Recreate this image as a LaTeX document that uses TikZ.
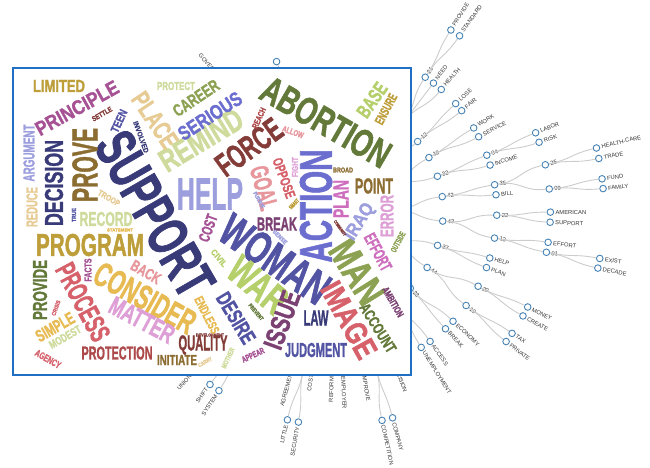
\documentclass[tikz,border=0pt]{standalone}
\usepackage{fontspec}
\usepackage{graphicx}
\usetikzlibrary{calc}
\newfontfamily\treefont{Liberation Sans}
\newfontfamily\cloudfont{Liberation Sans}[FakeBold=1.6]
\definecolor{boxblue}{RGB}{31,111,197}
\definecolor{steel}{RGB}{70,130,180}
\definecolor{linkgray}{RGB}{204,204,204}
\definecolor{labelgray}{RGB}{51,51,51}
\definecolor{cNavy}{HTML}{393B79}
\definecolor{cSlate}{HTML}{5254A3}
\definecolor{cIris}{HTML}{6B6ECF}
\definecolor{cLav}{HTML}{9C9EDE}
\definecolor{cMoss}{HTML}{637939}
\definecolor{cFern}{HTML}{8CA252}
\definecolor{cLime}{HTML}{B5CF6B}
\definecolor{cSage}{HTML}{CEDB9C}
\definecolor{cBronze}{HTML}{8C6D31}
\definecolor{cGold}{HTML}{BD9E39}
\definecolor{cAmber}{HTML}{E7BA52}
\definecolor{cSand}{HTML}{E7CB94}
\definecolor{cMaroon}{HTML}{843C39}
\definecolor{cBrick}{HTML}{AD494A}
\definecolor{cRose}{HTML}{D6616B}
\definecolor{cBlush}{HTML}{E7969C}
\definecolor{cPlum}{HTML}{7B4173}
\definecolor{cOrchid}{HTML}{A55194}
\definecolor{cPink}{HTML}{CE6DBD}
\definecolor{cLilac}{HTML}{DE9ED6}

\newcommand{\cw}[3]{\resizebox{#1pt}{#2pt}{\cloudfont\bfseries #3}}
\newcommand{\tnode}[4]{%
  \node[dot] (#1) at ({#2}:{#3*53.6pt}) {};
  \node[tlabel=#2] (#1-l) at ({#2}:{#3*53.6pt+5pt}) {#4};}
\newcommand{\tlink}[3]{%
  \draw[link] (#1) .. controls ($(root)!{(#3+0.5)/#3}!(#1)$)
                          and ($(root)!{(#3+0.5)/(#3+1)}!(#2)$) .. (#2);}

\tikzset{dot/.style = {circle, draw=steel, fill=white, line width=0.9pt,
                       minimum size=6.6pt, inner sep=0pt},
         link/.style = {draw=linkgray, line width=0.9pt},
         tlabel/.code = {\tikzset{font=\treefont\fontsize{5.8}{6}\selectfont,
                                  text=labelgray, inner sep=0pt}%
                         \pgfmathparse{cos(#1)}%
                         \ifdim\pgfmathresult pt<0pt
                           \tikzset{rotate=#1+180, anchor=east}%
                         \else
                           \tikzset{rotate=#1, anchor=west}%
                         \fi},
         word/.style = {inner sep=0pt, text=#1},
         cloudbox/.style = {draw=boxblue, line width=1.4pt, fill=white}
        }

\begin{document}
\begin{tikzpicture}[x=1pt, y=-1pt]
  \useasboundingbox (0,0) rectangle (650,468);

  \begin{scope}[shift={(336,211)}]
    \tnode{root}{0}{0}{}
    \foreach \n/\a/\d/\lab in {fa/46.5/1/, fb/24.4/1/, fc/1.2/1/, fd/-25.2/1/,
        fe/-51.1/1/, ff/-78.2/1/, fg/-99.5/1/, fh/-128.5/1/, fi/121/1/,
        h1/52.7/2/, n12/40.4/2/12, n10/29.9/2/10, n32/18.9/2/32, n42/7.7/2/42,
        n43/-5.4/2/43, n37/-18.7/2/37, n44/-31.8/2/44, n23/-46.1/2/23,
        h2/-56.1/2/, e1/-72.5/2/, e2/-84/2/, e3/-95/2/, e4/-104/2/,
        e5/-128.5/2/, e6/121/2/,
        n21/56.3/3/21, need/52.7/3/NEED, health/49.1/3/HEALTH, lose/41.9/3/LOSE,
        fair/38.6/3/FAIR, work/31.1/3/WORK, service/27.5/3/SERVICE,
        n04/20.3/3/04, income/16.6/3/INCOME, n35/9.4/3/35, bill/5.8/3/BILL,
        n22/-1.5/3/22, n13/-9.7/3/13, help/-17/3/HELP, plan/-20.6/3/PLAN,
        n20/-27.9/3/20, n19/-36/3/19, economy/-43.3/3/ECONOMY,
        break/-47.1/3/BREAK, access/-54.2/3/ACCESS,
        unemp/-58/3/UNEMPLOYMENT, decision/-69/3/DECISION, h4/-75.7/3/,
        improve/-80.3/3/IMPROVE, employer/-87.5/3/EMPLOYER,
        reform/-91.5/3/REFORM, cost/-98.5/3/COST, h5/-101.6/3/,
        agree/-105.5/3/AGREEMENT, h6/-124.6/3/, h7/-131.5/3/,
        govt/131/3/GOVERNMENT, h8/111.7/3/,
        provide/57.6/4/PROVIDE, standard/54.8/4/STANDARD, labor/21.4/4/LABOR,
        risk/18.7/4/RISK, n25/12.45/4/25, n09/5.9/4/09,
        american/-0.3/4/AMERICAN, support/-3/4/SUPPORT, effort/-8.4/4/EFFORT,
        n01/-11.1/4/01, money/-26.6/4/MONEY, create/-29.3/4/CREATE,
        tax/-34.8/4/TAX, private/-37.5/4/PRIVATE, company/-74.7/4/COMPANY,
        competition/-77.6/4/COMPETITION, little/-103.1/4/LITTLE,
        security/-100.1/4/SECURITY, shift/-126/4/SHIFT, system/-123.1/4/SYSTEM,
        union/-131.5/4/UNION,
        hcare/13.6/5/HEALTH-CARE, trade/11.3/5/TRADE, fund/6.9/5/FUND,
        family/4.8/5/FAMILY, exist/-10.2/5/EXIST, decade/-12.3/5/DECADE}
      {\tnode{\n}{\a}{\d}{\lab}}

    \foreach \c in {fa,fb,fc,fd,fe,ff,fg,fh,fi}
      \draw[link] (root) -- (\c);
    \foreach \p/\c/\d in {fa/h1/1, fa/n12/1, fb/n10/1, fb/n32/1, fc/n42/1,
        fc/n43/1, fd/n37/1, fd/n44/1, fe/n23/1, fe/h2/1, ff/e1/1, ff/e2/1,
        fg/e3/1, fg/e4/1, fh/e5/1, fi/e6/1,
        h1/n21/2, h1/need/2, h1/health/2, n12/lose/2, n12/fair/2, n10/work/2,
        n10/service/2, n32/n04/2, n32/income/2, n42/n35/2, n42/bill/2,
        n43/n22/2, n43/n13/2, n37/help/2, n37/plan/2, n44/n20/2, n44/n19/2,
        n23/economy/2, n23/break/2, h2/access/2, h2/unemp/2, e1/decision/2,
        e1/h4/2, e2/improve/2, e2/employer/2, e3/reform/2, e3/cost/2,
        e4/h5/2, e4/agree/2, e5/h6/2, e5/h7/2, e6/govt/2, e6/h8/2,
        n21/provide/3, n21/standard/3, n04/labor/3, n04/risk/3, n35/n25/3,
        n35/n09/3, n22/american/3, n22/support/3, n13/effort/3, n13/n01/3,
        n20/money/3, n20/create/3, n19/tax/3, n19/private/3, h4/company/3,
        h4/competition/3, h5/little/3, h5/security/3, h6/shift/3,
        h6/system/3, h7/union/3,
        n25/hcare/4, n25/trade/4, n09/fund/4, n09/family/4, n01/exist/4,
        n01/decade/4}
      {\tlink{\p}{\c}{\d}}
  \end{scope}

  \draw[cloudbox] (13,68) rectangle (411,375);

  \foreach \px/\py/\rot/\len/\cap/\col/\word in {
      155/214/-60/180/40/cNavy/SUPPORT, 275/259/-34/122/32/cSlate/WOMAN,
      316/206/90/113/32/cIris/ACTION, 210/194/0/66/31/cLav/HELP,
      326/122/-30/143/27/cMoss/ABORTION, 249/147/36/74/23/cMaroon/FORCE,
      201/140/31/92/22/cSage/REMIND, 210/116/33/72/14/cIris/SERIOUS,
      196/98/34/52/12/cFern/CAREER, 155/120/-56/62/18/cSand/PLACE,
      77/108/29/92/14/cOrchid/PRINCIPLE, 59/86/0/52/12/cGold/LIMITED,
      176/86/0/38/8/cSage/PROTECT, 102/114/30/22/5/cMaroon/SETTLE,
      119/121/65/24/8/cSlate/TEEN, 141/137/-70/33/5/cNavy/INVOLVED,
      29/153/90/57/11/cLav/ARGUMENT, 54/183/90/86/18/cNavy/DECISION,
      85/165/90/74/25/cBronze/PROVE, 32/207/90/40/11/cSand/REDUCE,
      109/198/-30/24/6/cSand/TROOP, 106/219/0/53/14/cSage/RECORD,
      74/215/90/14/4/cSlate/TRUE, 120/230/0/26/3/cAmber/STATEMENT,
      90/245/0/108/22/cGold/PROGRAM, 40/290/90/60/14/cMoss/PROVIDE,
      88/270/90/23/7/cOrchid/FACTS, 83/302/-62/84/20/cRose/PROCESS,
      145/298/-29/111/24/cAmber/CONSIDER, 142/320/-28/70/18/cLilac/MATTER,
      146/272/-30/32/11/cBlush/BACK, 55/327/30/42/12/cAmber/SIMPLE,
      65/337/30/35/8/cSage/MODEST, 48/359/-30/28/7/cRose/AGENCY,
      117/353/0/71/13/cBrick/PROTECTION, 56/308/70/16/4/cRose/CRISIS,
      177/360/0/40/10/cBronze/INITIATE, 203/345/0/49/15/cMaroon/QUALITY,
      210/335/0/28/3/cMaroon/DEVELOPMENT, 205/362/30/15/4/cSand/CARRY,
      228/358/65/22/5/cSage/MOTHER, 253/355/25/24/6/cOrchid/APPEAR,
      207/315/-63/40/9/cAmber/ENDLESS, 236/318/-59/56/15/cSlate/DESIRE,
      219/258/-50/20/6/cLime/CIVIL, 208/228/70/28/11/cOrchid/COST,
      258/285/-40/65/28/cLime/WAR, 282/320/70/60/19/cPlum/ISSUE,
      256/312/-50/20/4/cMoss/PREVENT, 316/318/0/25/15/cNavy/LAW,
      316/350/0/62/14/cSlate/JUDGMENT, 349/320/-61/83/22/cRose/IMAGE,
      357/272/-58/68/28/cFern/MAN, 378/328/-58/55/11/cMoss/ACCOUNT,
      393/302/-60/33/7/cPlum/AMBITION, 378/252/-62/40/12/cPink/EFFORT,
      398/242/62/22/6/cFern/OUTSIDE, 387/216/90/42/13/cLilac/ERROR,
      360/222/58/40/13/cLav/IRAQ, 341/199/90/38/15/cPink/PLAN,
      374/186/0/38/15/cBronze/POINT, 343/170/0/20/5/cBronze/BROAD,
      277/224/0/40/13/cPlum/BREAK, 280/237/-45/18/4/cLav/SENSE,
      340/228/-55/18/3/cMaroon/COMMUNITY, 264/188/-75/45/18/cBlush/GOAL,
      284/178/-70/42/10/cRose/OPPOSE, 295/167/90/20/6/cLilac/FIGHT,
      259/200/-60/18/4/cLav/PURSUE, 294/204/45/12/4/cGold/SMART,
      259/118/65/22/6/cBrick/REACH, 293/132/-20/22/6/cBlush/ALLOW,
      372/100/55/38/14/cLime/BASE, 386/109/62/33/9/cGold/ENSURE}
    \node[word=\col, rotate=\rot] (w\word) at (\px,\py) {\cw{\len}{\cap}{\word}};
\end{tikzpicture}
\end{document}
